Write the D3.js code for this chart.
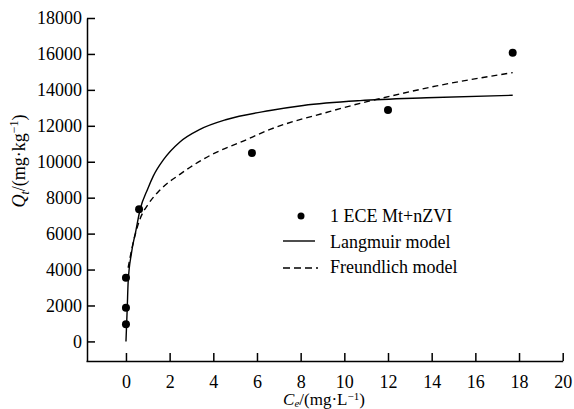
<!DOCTYPE html>
<html>
<head>
<meta charset="utf-8">
<script src="https://cdn.jsdelivr.net/npm/d3@7"></script>
<style>
  body { margin: 0; background: #fff; }
  text { font-family: "Liberation Serif", "Times New Roman", serif; }
</style>
</head>
<body>
<div id="myChart"></div>
<script>
// Measured points: 1 ECE Mt+nZVI
var pointC = [0, 0, 0, 0.6, 5.77, 12.0, 17.71];
var pointQ = [950, 1880, 3550, 7360, 10490, 12880, 16070];

// Langmuir model curve
var langC = [0, 0.06, 0.1, 0.25, 0.46, 0.64, 1.0, 1.25, 1.71, 2.47, 3.39, 4.61, 6.6, 8.12, 10.72, 13.77, 17.71];
var langQ = [0, 1900, 3300, 4900, 6200, 7300, 8500, 9200, 10100, 11100, 11800, 12350, 12850, 13130, 13400, 13560, 13700];

// Freundlich model curve
var freuC = [0.1, 0.26, 0.64, 1.0, 1.56, 2.47, 3.85, 5.37, 6.6, 9.35, 10.72, 11.79, 14.23, 17.71];
var freuQ = [4100, 5100, 6800, 7600, 8430, 9300, 10350, 11150, 11800, 12800, 13250, 13560, 14220, 14960];

var xTicks = [0, 2, 4, 6, 8, 10, 12, 14, 16, 18, 20];
var yTicks = [0, 2000, 4000, 6000, 8000, 10000, 12000, 14000, 16000, 18000];

var legendLabels = ["1 ECE Mt+nZVI", "Langmuir model", "Freundlich model"];

var width = 574, height = 409;

var svg = d3.select("#myChart")
  .append("svg")
    .attr("width", width)
    .attr("height", height);

// Scales
var x = d3.scaleLinear().domain([-1.83, 20]).range([86, 562.7]);
var y = d3.scaleLinear().domain([-1090, 18000]).range([361, 18]);

// X axis, ticks pointing inside
var xAxis = svg.append("g")
  .attr("transform", "translate(0,361)")
  .call(d3.axisBottom(x).tickValues(xTicks).tickFormat(d3.format("d"))
    .tickSize(-8).tickSizeOuter(0).tickPadding(14));

// Y axis
var yAxis = svg.append("g")
  .attr("transform", "translate(87,0)")
  .call(d3.axisLeft(y).tickValues(yTicks).tickFormat(d3.format("d"))
    .tickSize(-8).tickSizeOuter(0).tickPadding(5));

[xAxis, yAxis].forEach(function(ax) {
  ax.select(".domain").attr("stroke", "#000").attr("stroke-width", 1.5);
  ax.selectAll(".tick line").attr("stroke", "#000").attr("stroke-width", 1.5);
  ax.selectAll(".tick text")
    .attr("fill", "#000")
    .style("font-family", "'Liberation Serif', 'Times New Roman', serif")
    .style("font-size", "18px");
});

// Text label for the x axis
var xt = svg.append("text")
  .attr("x", 324)
  .attr("y", 405)
  .style("text-anchor", "middle")
  .style("font-size", "17px");
xt.append("tspan").style("font-style", "italic").text("C");
xt.append("tspan").style("font-style", "italic").style("font-size", "11px").attr("dy", 2).text("e");
xt.append("tspan").attr("dy", -2).text("/(mg\u00B7L");
xt.append("tspan").style("font-size", "11px").attr("dy", -5).text("\u22121");
xt.append("tspan").attr("dy", 5).text(")");

// Text label for the y axis
var yt = svg.append("text")
  .attr("transform", "translate(25,161) rotate(-90)")
  .style("text-anchor", "middle")
  .style("font-size", "18px");
yt.append("tspan").style("font-style", "italic").text("Q");
yt.append("tspan").style("font-style", "italic").style("font-size", "12px").attr("dy", 4).text("t");
yt.append("tspan").attr("dy", -4).text("/(mg\u00B7kg");
yt.append("tspan").style("font-size", "12px").attr("dy", -7).text("\u22121");
yt.append("tspan").attr("dy", 7).text(")");

// Lines
var line = d3.line()
  .x(function(d) { return x(d[0]); })
  .y(function(d) { return y(d[1]); })
  .curve(d3.curveMonotoneX);

svg.append("path")
  .datum(d3.zip(langC, langQ))
  .attr("fill", "none")
  .attr("stroke", "#000")
  .attr("stroke-width", 1.4)
  .attr("d", line);

svg.append("path")
  .datum(d3.zip(freuC, freuQ))
  .attr("fill", "none")
  .attr("stroke", "#000")
  .attr("stroke-width", 1.4)
  .attr("stroke-dasharray", "6,4")
  .attr("d", line);

// Points
svg.selectAll(".pt")
  .data(d3.zip(pointC, pointQ))
  .enter().append("circle")
    .attr("class", "pt")
    .attr("cx", function(d) { return x(d[0]); })
    .attr("cy", function(d) { return y(d[1]); })
    .attr("r", 4)
    .attr("fill", "#000");

// Legend
var legend = svg.append("g");
legend.append("circle").attr("cx", 301).attr("cy", 216).attr("r", 3.5).attr("fill", "#000");
legend.append("line").attr("x1", 283).attr("x2", 315).attr("y1", 241).attr("y2", 241)
  .attr("stroke", "#000").attr("stroke-width", 1.4);
legend.append("line").attr("x1", 283).attr("x2", 318).attr("y1", 268).attr("y2", 268)
  .attr("stroke", "#000").attr("stroke-width", 1.4).attr("stroke-dasharray", "7,4");
legend.selectAll(".lt")
  .data(legendLabels)
  .enter().append("text")
    .attr("class", "lt")
    .attr("x", 330)
    .attr("y", function(d, i) { return 216 + i * 25.5; })
    .attr("dy", "0.35em")
    .style("font-size", "18px")
    .text(function(d) { return d; });
</script>
</body>
</html>
